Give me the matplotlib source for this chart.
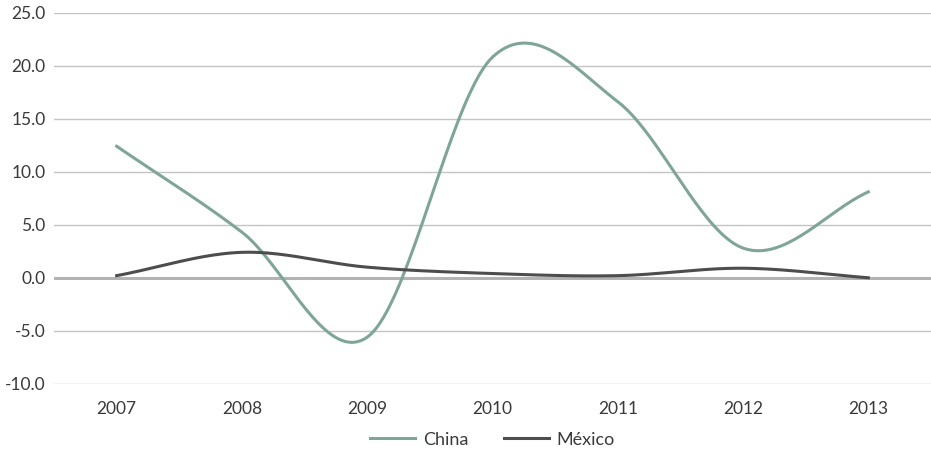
import numpy as np
import matplotlib.pyplot as plt

years = ['2007', '2008', '2009', '2010', '2011', '2012', '2013']
china = [12.4, 4.3, -5.6, 20.8, 16.6, 2.8, 8.1]
mexico = [0.2, 2.4, 1.0, 0.4, 0.2, 0.9, 0.0]

plt.rcParams['font.family'] = ['Lato', 'DejaVu Sans']


def smooth(x, y, n=40):
    # curva suavizada tipo Catmull-Rom (como a linha suavizada do Excel)
    x = np.asarray(x, float)
    y = np.asarray(y, float)
    px = np.concatenate([[2 * x[0] - x[1]], x, [2 * x[-1] - x[-2]]])
    py = np.concatenate([[2 * y[0] - y[1]], y, [2 * y[-1] - y[-2]]])
    xs, ys = [], []
    t = np.linspace(0, 1, n)
    for i in range(1, len(px) - 2):
        for p, out in ((px, xs), (py, ys)):
            p0, p1, p2, p3 = p[i - 1], p[i], p[i + 1], p[i + 2]
            out.extend(0.5 * ((2 * p1) + (-p0 + p2) * t
                              + (2 * p0 - 5 * p1 + 4 * p2 - p3) * t ** 2
                              + (-p0 + 3 * p1 - 3 * p2 + p3) * t ** 3))
    return xs, ys


fig = plt.figure(figsize=(9.31, 4.5), dpi=100)
ax = fig.add_axes([0.058, 0.147, 0.942, 0.825])

x = np.arange(len(years))
for yv in range(-10, 30, 5):
    ax.axhline(yv, color='#c4c4c4' if yv else '#b3b3b3', lw=1.0 if yv else 2.2, zorder=0)

cx, cy = smooth(x, china)
ax.plot(cx, cy, color='#7fa597', lw=2.2, label='China')
mx, my = smooth(x, mexico)
ax.plot(mx, my, color='#4d4d4d', lw=2.2, label='México')

ax.set_xlim(-0.5, len(years) - 0.5)
ax.set_ylim(-10, 25)
ax.set_yticks(range(-10, 30, 5))
ax.set_yticklabels([f'{v:.1f}' for v in range(-10, 30, 5)])
ax.set_xticks(x)
ax.set_xticklabels(years)
ax.tick_params(length=0, labelsize=12.5, colors='#3a3a3a', pad=6)
ax.tick_params(axis='x', pad=12)
for s in ax.spines.values():
    s.set_visible(False)

ax.legend(loc='upper center', bbox_to_anchor=(0.5, -0.085), ncol=2, frameon=False,
          fontsize=13, handlelength=2.5, handletextpad=0.4, columnspacing=2.0,
          labelcolor='#3a3a3a')

plt.savefig('out.png', dpi=100)
plt.close()
